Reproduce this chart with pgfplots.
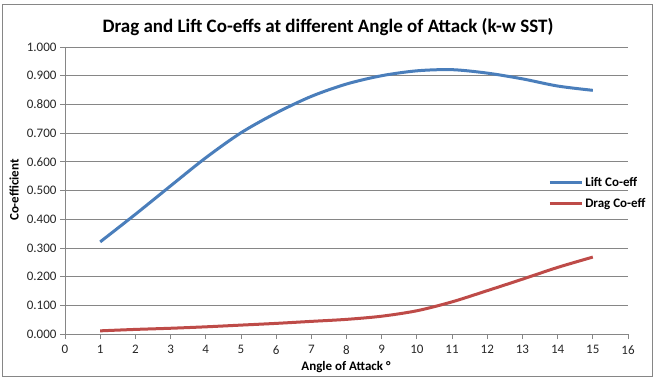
\documentclass[border=0pt]{standalone}
\usepackage{pgfplots}
\pgfplotsset{compat=1.18}
\usepackage{fontspec}
\setmainfont{Carlito}
\definecolor{liftblue}{HTML}{4A7EBB}
\definecolor{dragred}{HTML}{BE4B48}
\definecolor{axgray}{HTML}{868686}
\pgfplotstableread{
x lift drag
1 0.321 0.011
2 0.417 0.016
3 0.516 0.020
4 0.614 0.025
5 0.701 0.031
6 0.770 0.037
7 0.828 0.044
8 0.871 0.051
9 0.900 0.062
10 0.917 0.081
11 0.921 0.112
12 0.909 0.151
13 0.889 0.191
14 0.864 0.232
15 0.849 0.268
}\datatable
\begin{document}
\begin{tikzpicture}[x=1bp,y=1bp]
\path[use as bounding box] (0,0) rectangle (655,380);
\draw[axgray,line width=0.8bp] (2,4) rectangle (652,376);
\node[font=\fontsize{19bp}{21bp}\selectfont\bfseries] at (328,353) {Drag and Lift Co-effs at different Angle of Attack (k-w SST)};
\node[font=\fontsize{13bp}{15bp}\selectfont\bfseries,rotate=90] at (14,190) {Co-efficient};
\node[font=\fontsize{13bp}{15bp}\selectfont\bfseries] at (346,13) {Angle of Attack °};
\begin{axis}[
  at={(65bp,46bp)}, anchor=south west,
  scale only axis, width=563bp, height=287bp,
  xmin=0, xmax=16, ymin=0, ymax=1,
  xtick={0,...,16}, ytick={0,0.1,...,1.0},
  axis x line=bottom, axis y line=left,
  axis line style={axgray,line width=0.8bp,-},
  tick style={axgray,line width=0.8bp},
  tick align=outside, major tick length=5bp,
  ymajorgrids, grid style={axgray,line width=0.8bp},
  yticklabel style={/pgf/number format/.cd,fixed,fixed zerofill,precision=3},
  /pgf/number format/assume math mode=true,
  ticklabel style={font=\fontsize{13bp}{15bp}\selectfont, text=black!85},
  xticklabel style={yshift=-3bp},
  legend style={at={(axis description cs:0.858,0.491)}, anchor=west, draw=none, fill=none,
    font=\fontsize{13bp}{15bp}\selectfont\bfseries, row sep=6bp,
    inner sep=0pt},
  legend cell align=left,
  legend image code/.code={\draw[#1] (0bp,0bp) -- (32bp,0bp);},
  clip=false,
]
\addplot[liftblue, line width=3bp, smooth] table[x=x,y=lift] {\datatable};
\addlegendentry{Lift Co-eff}
\addplot[dragred, line width=3bp, smooth] table[x=x,y=drag] {\datatable};
\addlegendentry{Drag Co-eff}
\end{axis}
\end{tikzpicture}
\end{document}
